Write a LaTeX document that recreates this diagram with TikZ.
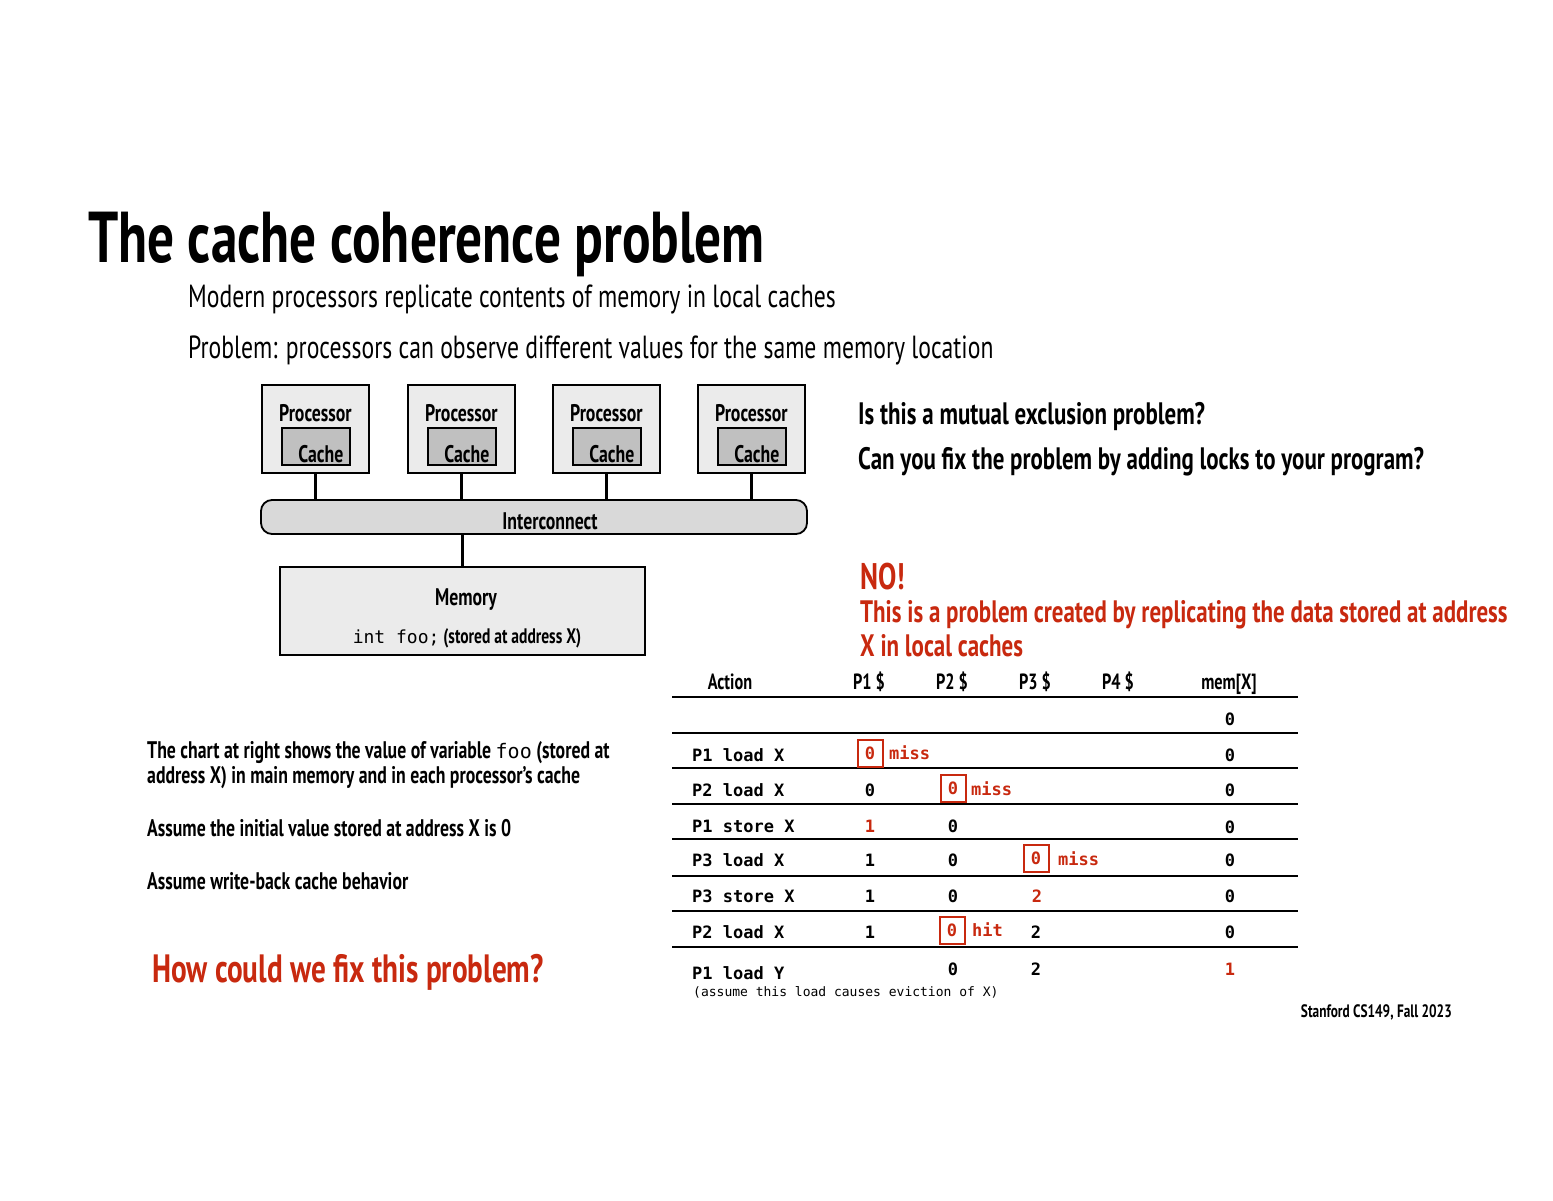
\documentclass[tikz,border=0pt]{standalone}
\usepackage{fontspec}
\setmainfont[FakeStretch=0.74]{PT Sans}
\setmonofont{DejaVu Sans Mono}
\usetikzlibrary{positioning,calc}
\definecolor{slideRed}{HTML}{C8290F}
\definecolor{procGray}{HTML}{EBEBEB}
\definecolor{cacheGray}{HTML}{C0C0C0}
\definecolor{busGray}{HTML}{D9D9D9}
\newcommand{\fsz}[1]{\fontsize{#1}{#1}\selectfont}

\begin{document}
\begin{tikzpicture}[x=1pt,y=-1pt,
  txt/.style={anchor=base west,inner sep=0pt},
  procBox/.style={draw,line width=1.8pt,fill=procGray,minimum width=107pt,minimum height=88pt,anchor=north west},
  cacheBox/.style={draw,line width=1.8pt,fill=cacheGray,minimum width=68pt,minimum height=37pt,anchor=north west},
  boxLabel/.style={anchor=base,inner sep=0pt,font=\bfseries\fsz{24}},
  wire/.style={line width=3pt},
  rule/.style={line width=2.4pt},
  hdr/.style={anchor=base,inner sep=0pt,font=\bfseries\fsz{22}},
  act/.style={anchor=base west,inner sep=0pt,font=\ttfamily\bfseries\fsz{17}},
  val/.style={anchor=base,inner sep=0pt,font=\ttfamily\bfseries\fsz{17}},
  redVal/.style={val,text=slideRed},
  hitBox/.style={draw=slideRed,line width=2pt,minimum width=25pt,minimum height=27pt,inner sep=0pt,
                 text=slideRed,font=\ttfamily\bfseries\fsz{17}},
  tag/.style={anchor=base west,inner sep=0pt,text=slideRed,font=\ttfamily\bfseries\fsz{17}}]
  \useasboundingbox[fill=white] (0,0) rectangle (1553,1200);

  % headings
  \node[txt,font=\bfseries\fsz{72}] (title) at (88,262) {The cache coherence problem};
  \node[txt,font=\fsz{32}] (sub1) at (188,307) {Modern processors replicate contents of memory in local caches};
  \node[txt,font=\fsz{32}] (sub2) at (188,358) {Problem: processors can observe different values for the same memory location};

  % processors, interconnect, memory
  \node[draw,line width=1.8pt,fill=busGray,rounded corners=11pt,minimum width=546pt,minimum height=34pt] (bus) at (534,517) {};
  \node[anchor=base,inner sep=0pt,font=\bfseries\fsz{24}] (busLabel) at (550,529) {Interconnect};
  \foreach \x/\n in {261/1,407/2,552/3,697/4}{
    \node[procBox] (proc\n) at (\x,384) {};
    \node[cacheBox] (cache\n) at (\x+20,427) {};
    \node[boxLabel] at ($(proc\n.north)+(0,37)$) {Processor};
    \node[boxLabel] at ($(cache\n.center)+(5,16)$) {Cache};
    \draw[wire] (proc\n.south) -- (proc\n.south |- bus.north);
  }
  \node[draw,line width=1.8pt,fill=procGray,minimum width=365pt,minimum height=88pt,anchor=north west] (mem) at (279,566) {};
  \draw[wire] (mem.north) -- (mem.north |- bus.south);
  \node[anchor=base,inner sep=0pt,font=\bfseries\fsz{24}] (memLabel) at (466,605) {Memory};
  \node[anchor=base,inner sep=0pt,font=\bfseries\fsz{21}] (memVar) at (467,643) {{\ttfamily\mdseries\fsz{18}int foo;} (stored at address X)};

  % questions and answer
  \node[txt,font=\bfseries\fsz{31}] (q1) at (858,424) {Is this a mutual exclusion problem?};
  \node[txt,font=\bfseries\fsz{31}] (q2) at (858,469) {Can you fix the problem by adding locks to your program?};
  \node[txt,font=\bfseries\fsz{37},text=slideRed] (no) at (860,589) {NO!};
  \node[txt,font=\bfseries\fsz{31},text=slideRed] (ans1) at (860,622) {This is a problem created by replicating the data stored at address};
  \node[txt,font=\bfseries\fsz{31},text=slideRed] (ans2) at (860,656) {X in local caches};

  % left notes
  \node[txt,font=\bfseries\fsz{24}] (n1) at (147,758) {The chart at right shows the value of variable {\ttfamily\mdseries\fsz{20}foo} (stored at};
  \node[txt,font=\bfseries\fsz{24}] (n2) at (147,783) {address X) in main memory and in each processor’s cache};
  \node[txt,font=\bfseries\fsz{24}] (n3) at (147,836) {Assume the initial value stored at address X is 0};
  \node[txt,font=\bfseries\fsz{24}] (n4) at (147,889) {Assume write-back cache behavior};
  \node[txt,font=\bfseries\fsz{39.5},text=slideRed] (fix) at (152,982) {How could we fix this problem?};

  % table
  \node[hdr] at (730,689) {Action};
  \node[hdr] at (869,689) {P1 \$};
  \node[hdr] at (952,689) {P2 \$};
  \node[hdr] at (1035,689) {P3 \$};
  \node[hdr] at (1118,689) {P4 \$};
  \node[hdr] at (1229,689) {mem[X]};
  \foreach \y in {697,733,768,804,839,876,911,947}
    \draw[rule] (672,\y) -- (1298,\y);

  \node[val] at (1230,725) {0};

  \node[act] at (692,761) {P1 load X};
  \node[hitBox] (b1) at (870,753) {0};
  \node[tag] at (889,759) {miss};
  \node[val] at (1230,761) {0};

  \node[act] at (692,796) {P2 load X};
  \node[val] at (870,796) {0};
  \node[hitBox] (b2) at (953,788) {0};
  \node[tag] at (971,795) {miss};
  \node[val] at (1230,796) {0};

  \node[act] at (692,832) {P1 store X};
  \node[redVal] at (870,832) {1};
  \node[val] at (953,832) {0};
  \node[val] at (1230,833) {0};

  \node[act] at (692,866) {P3 load X};
  \node[val] at (870,866) {1};
  \node[val] at (953,866) {0};
  \node[hitBox] (b3) at (1036,858) {0};
  \node[tag] at (1058,865) {miss};
  \node[val] at (1230,866) {0};

  \node[act] at (692,902) {P3 store X};
  \node[val] at (870,902) {1};
  \node[val] at (953,902) {0};
  \node[redVal] at (1037,902) {2};
  \node[val] at (1230,902) {0};

  \node[act] at (692,938) {P2 load X};
  \node[val] at (870,938) {1};
  \node[hitBox] (b4) at (952,930) {0};
  \node[tag] at (972,936) {hit};
  \node[val] at (1036,938) {2};
  \node[val] at (1230,938) {0};

  \node[act] at (692,979) {P1 load Y};
  \node[val] at (953,975) {0};
  \node[val] at (1036,975) {2};
  \node[redVal] at (1230,975) {1};
  \node[act,font=\ttfamily\fsz{13}] (evict) at (693,996) {(assume this load causes eviction of X)};

  \node[anchor=base east,inner sep=0pt,font=\bfseries\fsz{18}] (credit) at (1452,1017) {Stanford CS149, Fall 2023};
\end{tikzpicture}
\end{document}
